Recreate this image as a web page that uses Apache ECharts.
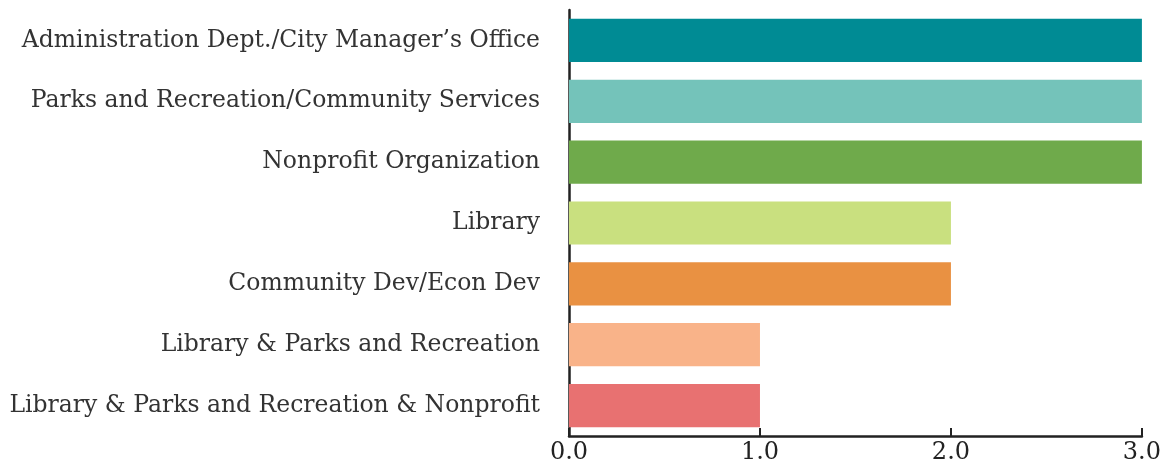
<!DOCTYPE html>
<html>
<head>
<meta charset="utf-8">
<script src="https://cdn.jsdelivr.net/npm/echarts@6/dist/echarts.min.js"></script>
<style>
  html, body { margin: 0; padding: 0; background: #fff; }
  #chart { width: 1164px; height: 467px; }
</style>
</head>
<body>
<div id="chart"></div>
<script>
// data, top to bottom as in the picture
const categories = [
  'Administration Dept./City Manager\u2019s Office',
  'Parks and Recreation/Community Services',
  'Nonprofit Organization',
  'Library',
  'Community Dev/Econ Dev',
  'Library & Parks and Recreation',
  'Library & Parks and Recreation & Nonprofit'
];
const counts = [3, 3, 3, 2, 2, 1, 1];
const barColors = ['#008b94', '#74c3ba', '#6faa4b', '#c9e07f', '#e99142', '#f9b389', '#e87171'];
const xTicks = [0, 1, 2, 3];

const chart = echarts.init(document.getElementById('chart'));
const font = '"DejaVu Serif", "Liberation Serif", serif';

chart.setOption({
  animation: false,
  grid: { left: 569, right: 21, top: 10, bottom: 31, containLabel: false },
  xAxis: {
    type: 'value',
    min: xTicks[0],
    max: xTicks[xTicks.length - 1],
    interval: 1,
    axisLine: { show: true, lineStyle: { color: '#222', width: 2.5 } },
    axisTick: { show: true, inside: true, length: 8, lineStyle: { color: '#222', width: 2 } },
    splitLine: { show: false },
    axisLabel: {
      color: '#222', fontFamily: font, fontSize: 24, margin: 5,
      formatter: v => v.toFixed(1)
    }
  },
  yAxis: {
    type: 'category',
    inverse: true,
    data: categories,
    axisLine: { show: true, lineStyle: { color: '#222', width: 2.5 } },
    axisTick: { show: false },
    axisLabel: { color: '#333', fontFamily: font, fontSize: 23.5, margin: 29, padding: [5, 0, 0, 0] }
  },
  series: [{
    type: 'bar',
    barCategoryGap: '29%',
    data: counts.map((v, i) => ({ value: v, itemStyle: { color: barColors[i] } }))
  }]
});
</script>
</body>
</html>
